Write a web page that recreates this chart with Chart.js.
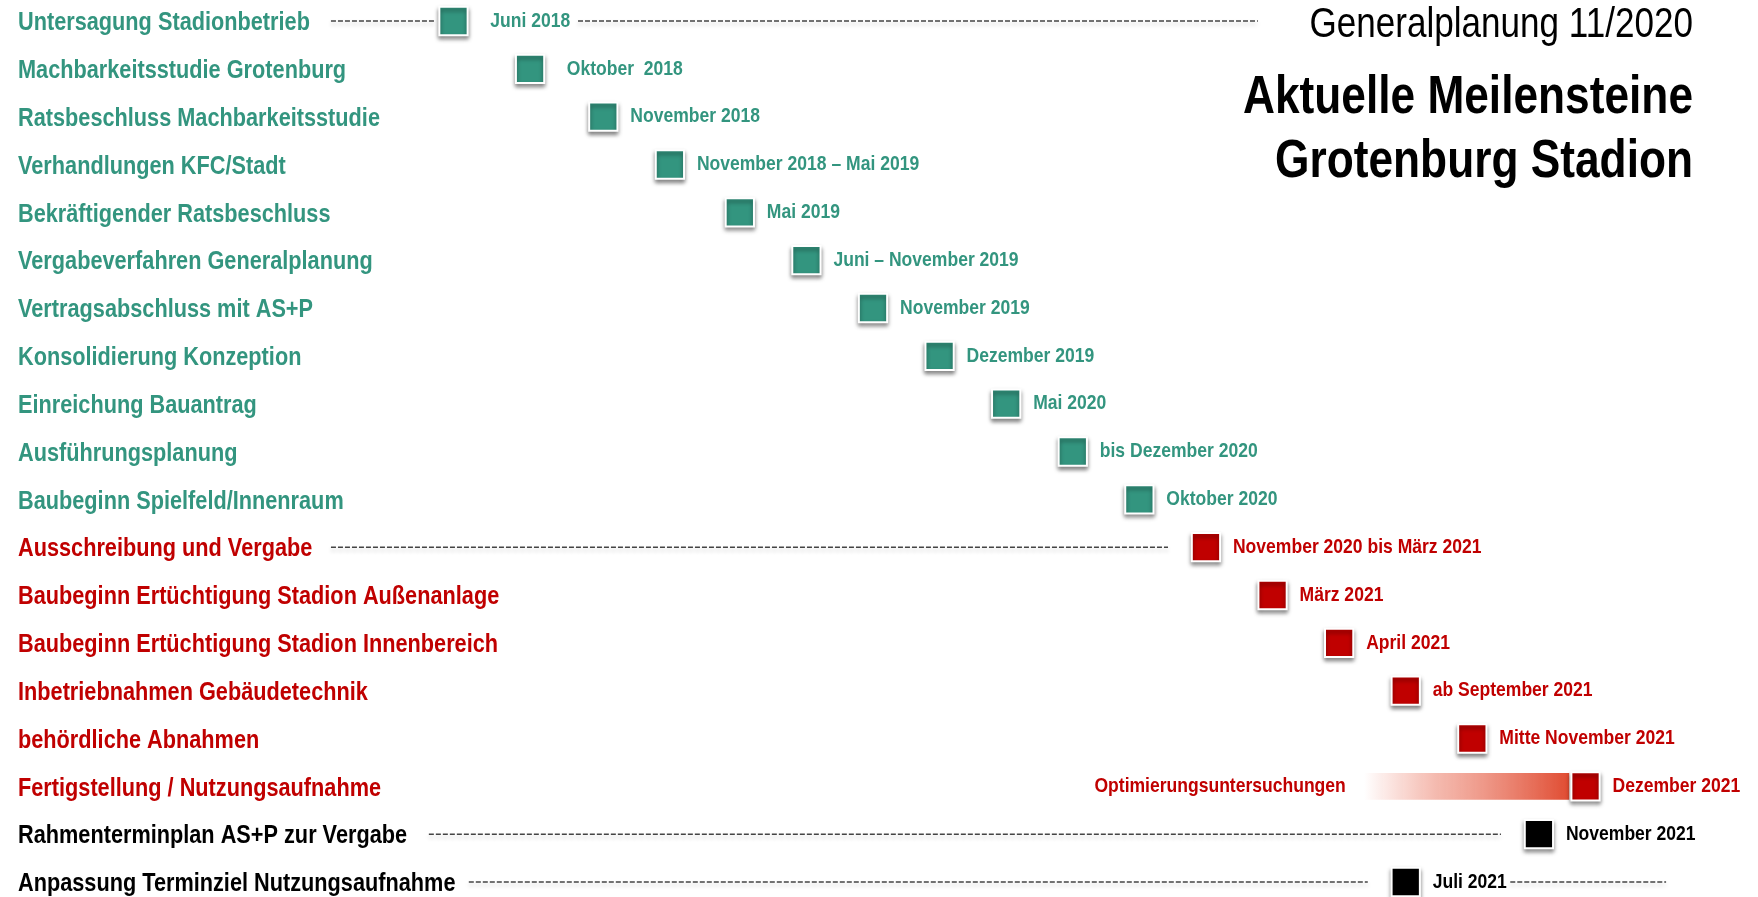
<!DOCTYPE html>
<html lang="de">
<head>
<meta charset="utf-8">
<title>Aktuelle Meilensteine Grotenburg Stadion</title>
<script src="https://cdn.jsdelivr.net/npm/chart.js@4.4.1/dist/chart.umd.min.js"></script>
<style>
  html, body { margin: 0; padding: 0; background: #fff; }
  #wrap { position: relative; width: 1758px; height: 897px; }
</style>
</head>
<body>
<div id="wrap"><canvas id="milestoneChart"></canvas></div>
<script>
// rows of the milestone plan, top to bottom
const rows = [
  'Untersagung Stadionbetrieb',
  'Machbarkeitsstudie Grotenburg',
  'Ratsbeschluss Machbarkeitsstudie',
  'Verhandlungen KFC/Stadt',
  'Bekräftigender Ratsbeschluss',
  'Vergabeverfahren Generalplanung',
  'Vertragsabschluss mit AS+P',
  'Konsolidierung Konzeption',
  'Einreichung Bauantrag',
  'Ausführungsplanung',
  'Baubeginn Spielfeld/Innenraum',
  'Ausschreibung und Vergabe',
  'Baubeginn Ertüchtigung Stadion Außenanlage',
  'Baubeginn Ertüchtigung Stadion Innenbereich',
  'Inbetriebnahmen Gebäudetechnik',
  'behördliche Abnahmen',
  'Fertigstellung / Nutzungsaufnahme',
  'Rahmenterminplan AS+P zur Vergabe',
  'Anpassung Terminziel Nutzungsaufnahme'
];
const rowGroup = [
  'teal', 'teal', 'teal', 'teal', 'teal', 'teal', 'teal', 'teal', 'teal', 'teal', 'teal',
  'red', 'red', 'red', 'red', 'red', 'red',
  'black', 'black'
];
// schematic position of each milestone (one step per row)
const milestonePos = [-0.25, 0.9, 2.0, 3.0, 4.05, 5.05, 6.05, 7.05, 8.05, 9.05, 10.05,
  11.05, 12.05, 13.05, 14.05, 15.05, 16.75, 16.05, 14.05];
const dateLabels = [
  '  Juni 2018', '  Oktober  2018', 'November 2018', 'November 2018 – Mai 2019', 'Mai 2019',
  'Juni – November 2019', 'November 2019', 'Dezember 2019', 'Mai 2020', 'bis Dezember 2020',
  'Oktober 2020', 'November 2020 bis März 2021', 'März 2021', 'April 2021',
  'ab September 2021', 'Mitte November 2021', 'Dezember 2021', 'November 2021', 'Juli 2021'
];
// dashed leader lines
const leaderRow = [0, 0, 11, 17, 18, 18];
const leaderFrom = [-2.09, 1.62, -2.09, -0.62, -0.02, 15.62];
const leaderTo = [-0.53, 11.83, 10.48, 15.48, 13.48, 17.96];
// optimisation phase bar
const optRow = 16;
const optRange = [13.42, 16.5];
const optLabel = 'Optimierungsuntersuchungen';
const titleLines = ['Generalplanung 11/2020', 'Aktuelle Meilensteine', 'Grotenburg Stadion'];

const FONT = "'Liberation Sans', Arial, sans-serif";
const NARROW = 0.835; // squeeze to look like Arial Narrow
const groupColor = { teal: '#33957f', red: '#c00000', black: '#000000' };

function narrowText(ctx, text, x, y) {
  const w = ctx.measureText(text).width;
  ctx.fillText(text, x, y, w * NARROW);
}

const shadowPlugin = {
  id: 'markShadow',
  beforeDatasetDraw(chart, args) {
    const ds = chart.data.datasets[args.index];
    if (!ds.shadow) return;
    const ctx = chart.ctx;
    ctx.save();
    ctx.shadowColor = ds.shadow;
    ctx.shadowBlur = 4;
    ctx.shadowOffsetY = 3;
  },
  afterDatasetDraw(chart, args) {
    if (chart.data.datasets[args.index].shadow) chart.ctx.restore();
  }
};

const labelPlugin = {
  id: 'milestoneLabels',
  afterDatasetsDraw(chart) {
    const ctx = chart.ctx;
    const ys = chart.scales.y;
    ctx.save();
    ctx.textBaseline = 'middle';
    ctx.textAlign = 'left';
    // row names
    ctx.font = 'bold 26px ' + FONT;
    ys.getLabels().forEach((name, i) => {
      ctx.fillStyle = groupColor[rowGroup[i]];
      narrowText(ctx, name, 18, ys.getPixelForValue(i) + 2);
    });
    // milestone dates
    const meta = chart.getDatasetMeta(0);
    ctx.font = 'bold 21px ' + FONT;
    meta.data.forEach((pt, i) => {
      ctx.fillStyle = groupColor[rowGroup[i]];
      narrowText(ctx, dateLabels[i], pt.x + 27, pt.y);
    });
    // label in front of the optimisation bar
    const x = chart.scales.x.getPixelForValue(optRange[0]);
    ctx.fillStyle = groupColor.red;
    ctx.textAlign = 'right';
    narrowText(ctx, optLabel, x - 18, ys.getPixelForValue(optRow));
    ctx.restore();
  },
  afterDraw(chart) {
    const ctx = chart.ctx;
    ctx.save();
    ctx.fillStyle = '#000';
    ctx.textAlign = 'right';
    ctx.textBaseline = 'alphabetic';
    ctx.font = '42px ' + FONT;
    narrowText(ctx, titleLines[0], 1693, 37);
    ctx.font = 'bold 53px ' + FONT;
    narrowText(ctx, titleLines[1], 1693, 113);
    narrowText(ctx, titleLines[2], 1693, 177);
    ctx.restore();
  }
};

const datasets = [];
datasets.push({
  type: 'scatter',
  data: rows.map((r, i) => ({ x: milestonePos[i], y: r })),
  pointStyle: 'rect',
  pointRadius: 20,
  pointHoverRadius: 20,
  backgroundColor: rowGroup.map(g => groupColor[g]),
  borderColor: '#ffffff',
  borderWidth: 2,
  shadow: 'rgba(0,0,0,0.45)',
  clip: false,
  order: 0
});
datasets.push({
  type: 'bar',
  indexAxis: 'y',
  data: rows.map((r, i) => i === optRow ? optRange : null),
  barThickness: 26,
  backgroundColor: (c) => {
    const chart = c.chart;
    if (!chart.chartArea) return '#e04c32';
    const xs = chart.scales.x;
    const g = chart.ctx.createLinearGradient(xs.getPixelForValue(optRange[0]), 0, xs.getPixelForValue(optRange[1]), 0);
    g.addColorStop(0, 'rgba(236,120,100,0)');
    g.addColorStop(0.35, 'rgba(236,130,110,0.55)');
    g.addColorStop(1, 'rgba(224,76,50,1)');
    return g;
  },
  clip: false,
  order: 1
});
leaderRow.forEach((r, i) => {
  datasets.push({
    type: 'line',
    data: [{ x: leaderFrom[i], y: rows[r] }, { x: leaderTo[i], y: rows[r] }],
    borderColor: '#444444',
    borderWidth: 1.5,
    borderDash: [5, 2],
    pointRadius: 0,
    shadow: 'rgba(0,0,0,0.22)',
    clip: false,
    order: 2
  });
});

const ctx = document.getElementById('milestoneChart').getContext('2d');
new Chart(ctx, {
  type: 'bar',
  data: { labels: rows, datasets: datasets },
  options: {
    indexAxis: 'y',
    responsive: true,
    maintainAspectRatio: false,
    animation: false,
    events: [],
    layout: { autoPadding: false, padding: { left: 0, right: 0, top: 21, bottom: 15 } },
    plugins: {
      legend: { display: false },
      tooltip: { enabled: false }
    },
    scales: {
      x: {
        type: 'linear',
        display: false,
        min: -7.06,
        max: 19.34
      },
      y: {
        type: 'category',
        labels: rows,
        offset: false,
        display: false
      }
    }
  },
  plugins: [shadowPlugin, labelPlugin]
});
</script>
</body>
</html>
